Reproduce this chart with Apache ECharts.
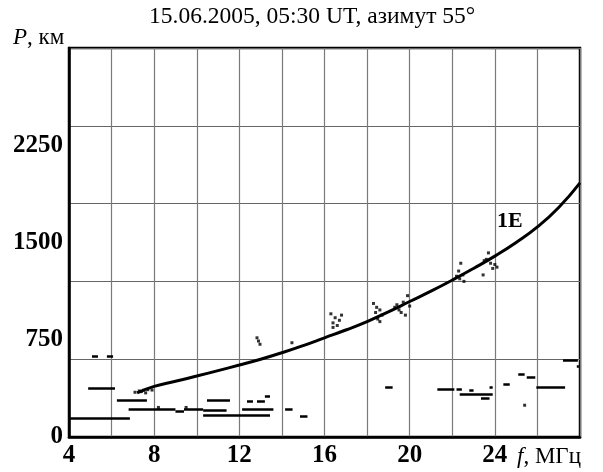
<!DOCTYPE html>
<html>
<head>
<meta charset="utf-8">
<script src="https://cdn.jsdelivr.net/npm/echarts@6/dist/echarts.min.js"></script>
<style>
html,body{margin:0;padding:0;background:#fff;}
#c{width:603px;height:472px;}
</style>
</head>
<body>
<div id="c"></div>
<script>
// ---- data ----
var xTickLabels = [4, 8, 12, 16, 20, 24];
var yTickLabels = [0, 750, 1500, 2250];

// 1E model curve: frequency (MHz) and range P (km)
var curveF = [7.2, 8, 9, 10, 11, 12, 13, 14, 15, 16, 17, 18, 19, 20, 21, 22, 23, 24, 25, 26, 27, 28];
var curveP = [340, 390, 430, 470, 512, 555, 600, 650, 705, 765, 825, 890, 965, 1045, 1125, 1210, 1300, 1395, 1500, 1620, 1770, 1960];

// horizontal trace segments (start MHz, end MHz, range km)
var segStart = [4.05, 4.9, 5.08, 5.78, 6.25, 6.8, 9.0, 9.4, 10.3, 10.48, 10.3, 12.13, 12.36, 12.83, 13.2, 14.15, 14.85, 18.85, 21.3, 22.2, 22.35, 22.8, 23.35, 23.75, 24.4, 25.1, 25.5, 25.95, 27.2, 27.85];
var segEnd   = [6.86, 6.16, 5.36, 6.07, 7.66, 9.0, 9.4, 10.3, 11.4, 11.56, 13.44, 13.6, 12.64, 13.2, 13.44, 14.5, 15.2, 19.2, 22.1, 22.45, 23.9, 23.0, 23.75, 23.9, 24.7, 25.4, 25.9, 27.3, 27.9, 27.95];
var segP     = [144, 378, 619, 619, 285, 213, 200, 213, 205, 280, 170, 213, 272, 272, 316, 215, 160, 380, 370, 370, 330, 360, 300, 385, 405, 485, 460, 385, 595, 545];

// individual echo points (MHz, km)
var dotF = [7.1, 7.3, 7.5, 7.7, 7.9, 7.4, 7.6,
            12.83, 12.9, 12.97, 14.47,
            16.3, 16.5, 16.7, 16.4, 16.6, 16.8, 16.4,
            18.3, 18.45, 18.6, 18.4, 18.7, 18.5, 18.6,
            19.3, 19.5, 19.7, 19.9, 19.6, 19.8, 19.4, 20.0,
            22.4, 22.3, 22.5, 22.35, 22.55, 22.2,
            23.7, 23.6, 23.8, 24.0, 23.5, 24.1, 23.9, 23.45,
            25.4, 8.2, 9.5];
var dotP = [345, 355, 360, 365, 362, 350, 340,
            765, 740, 715, 727,
            950, 920, 900, 880, 860, 940, 845,
            1030, 1000, 980, 960, 940, 910, 890,
            1000, 980, 1040, 1090, 960, 940, 1020, 1010,
            1340, 1280, 1250, 1220, 1200, 1240,
            1420, 1370, 1340, 1330, 1360, 1310, 1300, 1250,
            245, 228, 228];

var curveLabel = '1E';
var curveLabelF = 24.7, curveLabelP = 1660;

// ---- build ----
var curveData = curveF.map(function(f, i){ return [f, curveP[i]]; });
var segData = segStart.map(function(s, i){ return {coords: [[s, segP[i]], [segEnd[i], segP[i]]]}; });
var dotData = dotF.map(function(f, i){ return [f, dotP[i]]; });

var serif = 'Liberation Serif';
var chart = echarts.init(document.getElementById('c'));
chart.setOption({
  animation: false,
  backgroundColor: '#fff',
  grid: {left: 69, right: 23, top: 48, bottom: 35, show: true, borderColor: '#000', borderWidth: 2.5, backgroundColor: 'transparent'},
  xAxis: {
    type: 'value', min: 4, max: 28, interval: 2,
    axisLine: {show: true, lineStyle: {color: '#000', width: 2.5}},
    axisTick: {show: false},
    splitLine: {show: true, lineStyle: {color: '#7a7a7a', width: 1.2}},
    axisLabel: {
      color: '#000', fontFamily: serif, fontWeight: 'bold', fontSize: 25, margin: 6,
      formatter: function(v){ return xTickLabels.indexOf(v) >= 0 ? String(v) : ''; }
    }
  },
  yAxis: [{
    type: 'value', min: 0, max: 3000, interval: 600,
    axisLine: {show: true, lineStyle: {color: '#000', width: 2.5}},
    axisTick: {show: false},
    axisLabel: {show: false},
    splitLine: {show: true, lineStyle: {color: '#666', width: 1.2}}
  }, {
    type: 'value', min: 0, max: 3000, interval: 750, position: 'left',
    axisLine: {show: false}, axisTick: {show: false},
    splitLine: {show: false},
    axisLabel: {
      color: '#000', fontFamily: serif, fontWeight: 'bold', fontSize: 25, margin: 6,
      formatter: function(v){ return yTickLabels.indexOf(v) >= 0 ? String(v) : ''; }
    }
  }],
  series: [{
    type: 'line', data: curveData, smooth: true, showSymbol: false,
    lineStyle: {color: '#000', width: 3}, z: 5
  }, {
    type: 'lines', coordinateSystem: 'cartesian2d', data: segData,
    lineStyle: {color: '#000', width: 2.5, opacity: 1}, z: 4
  }, {
    type: 'scatter', data: dotData, symbol: 'rect', symbolSize: [3, 3],
    itemStyle: {color: '#000'}, z: 4
  }],
  graphic: [{
    id: 'title', type: 'text', left: 149, top: 5,
    style: {text: '15.06.2005, 05:30 UT, азимут 55°', font: '23.5px "Liberation Serif"', fill: '#000'}
  }, {
    id: 'yname', type: 'text', left: 13, top: 26,
    style: {rich: {i: {font: 'italic 23px "Liberation Serif"', fill: '#000'}, r: {font: '23px "Liberation Serif"', fill: '#000'}},
            text: '{i|P}{r|, км}'}
  }, {
    id: 'xname', type: 'text', left: 517, top: 445,
    style: {rich: {i: {font: 'italic 23px "Liberation Serif"', fill: '#000'}, r: {font: '23px "Liberation Serif"', fill: '#000'}},
            text: '{i|f}{r|, МГц}'}
  }]
});
var lp = chart.convertToPixel({gridIndex: 0}, [curveLabelF, curveLabelP]);
chart.setOption({graphic: [{
  id: 'curveLabel', type: 'text', x: lp[0], y: lp[1],
  style: {text: curveLabel, font: 'bold 22px "Liberation Serif"', fill: '#000', align: 'center', verticalAlign: 'middle'}
}]});
</script>
</body>
</html>
